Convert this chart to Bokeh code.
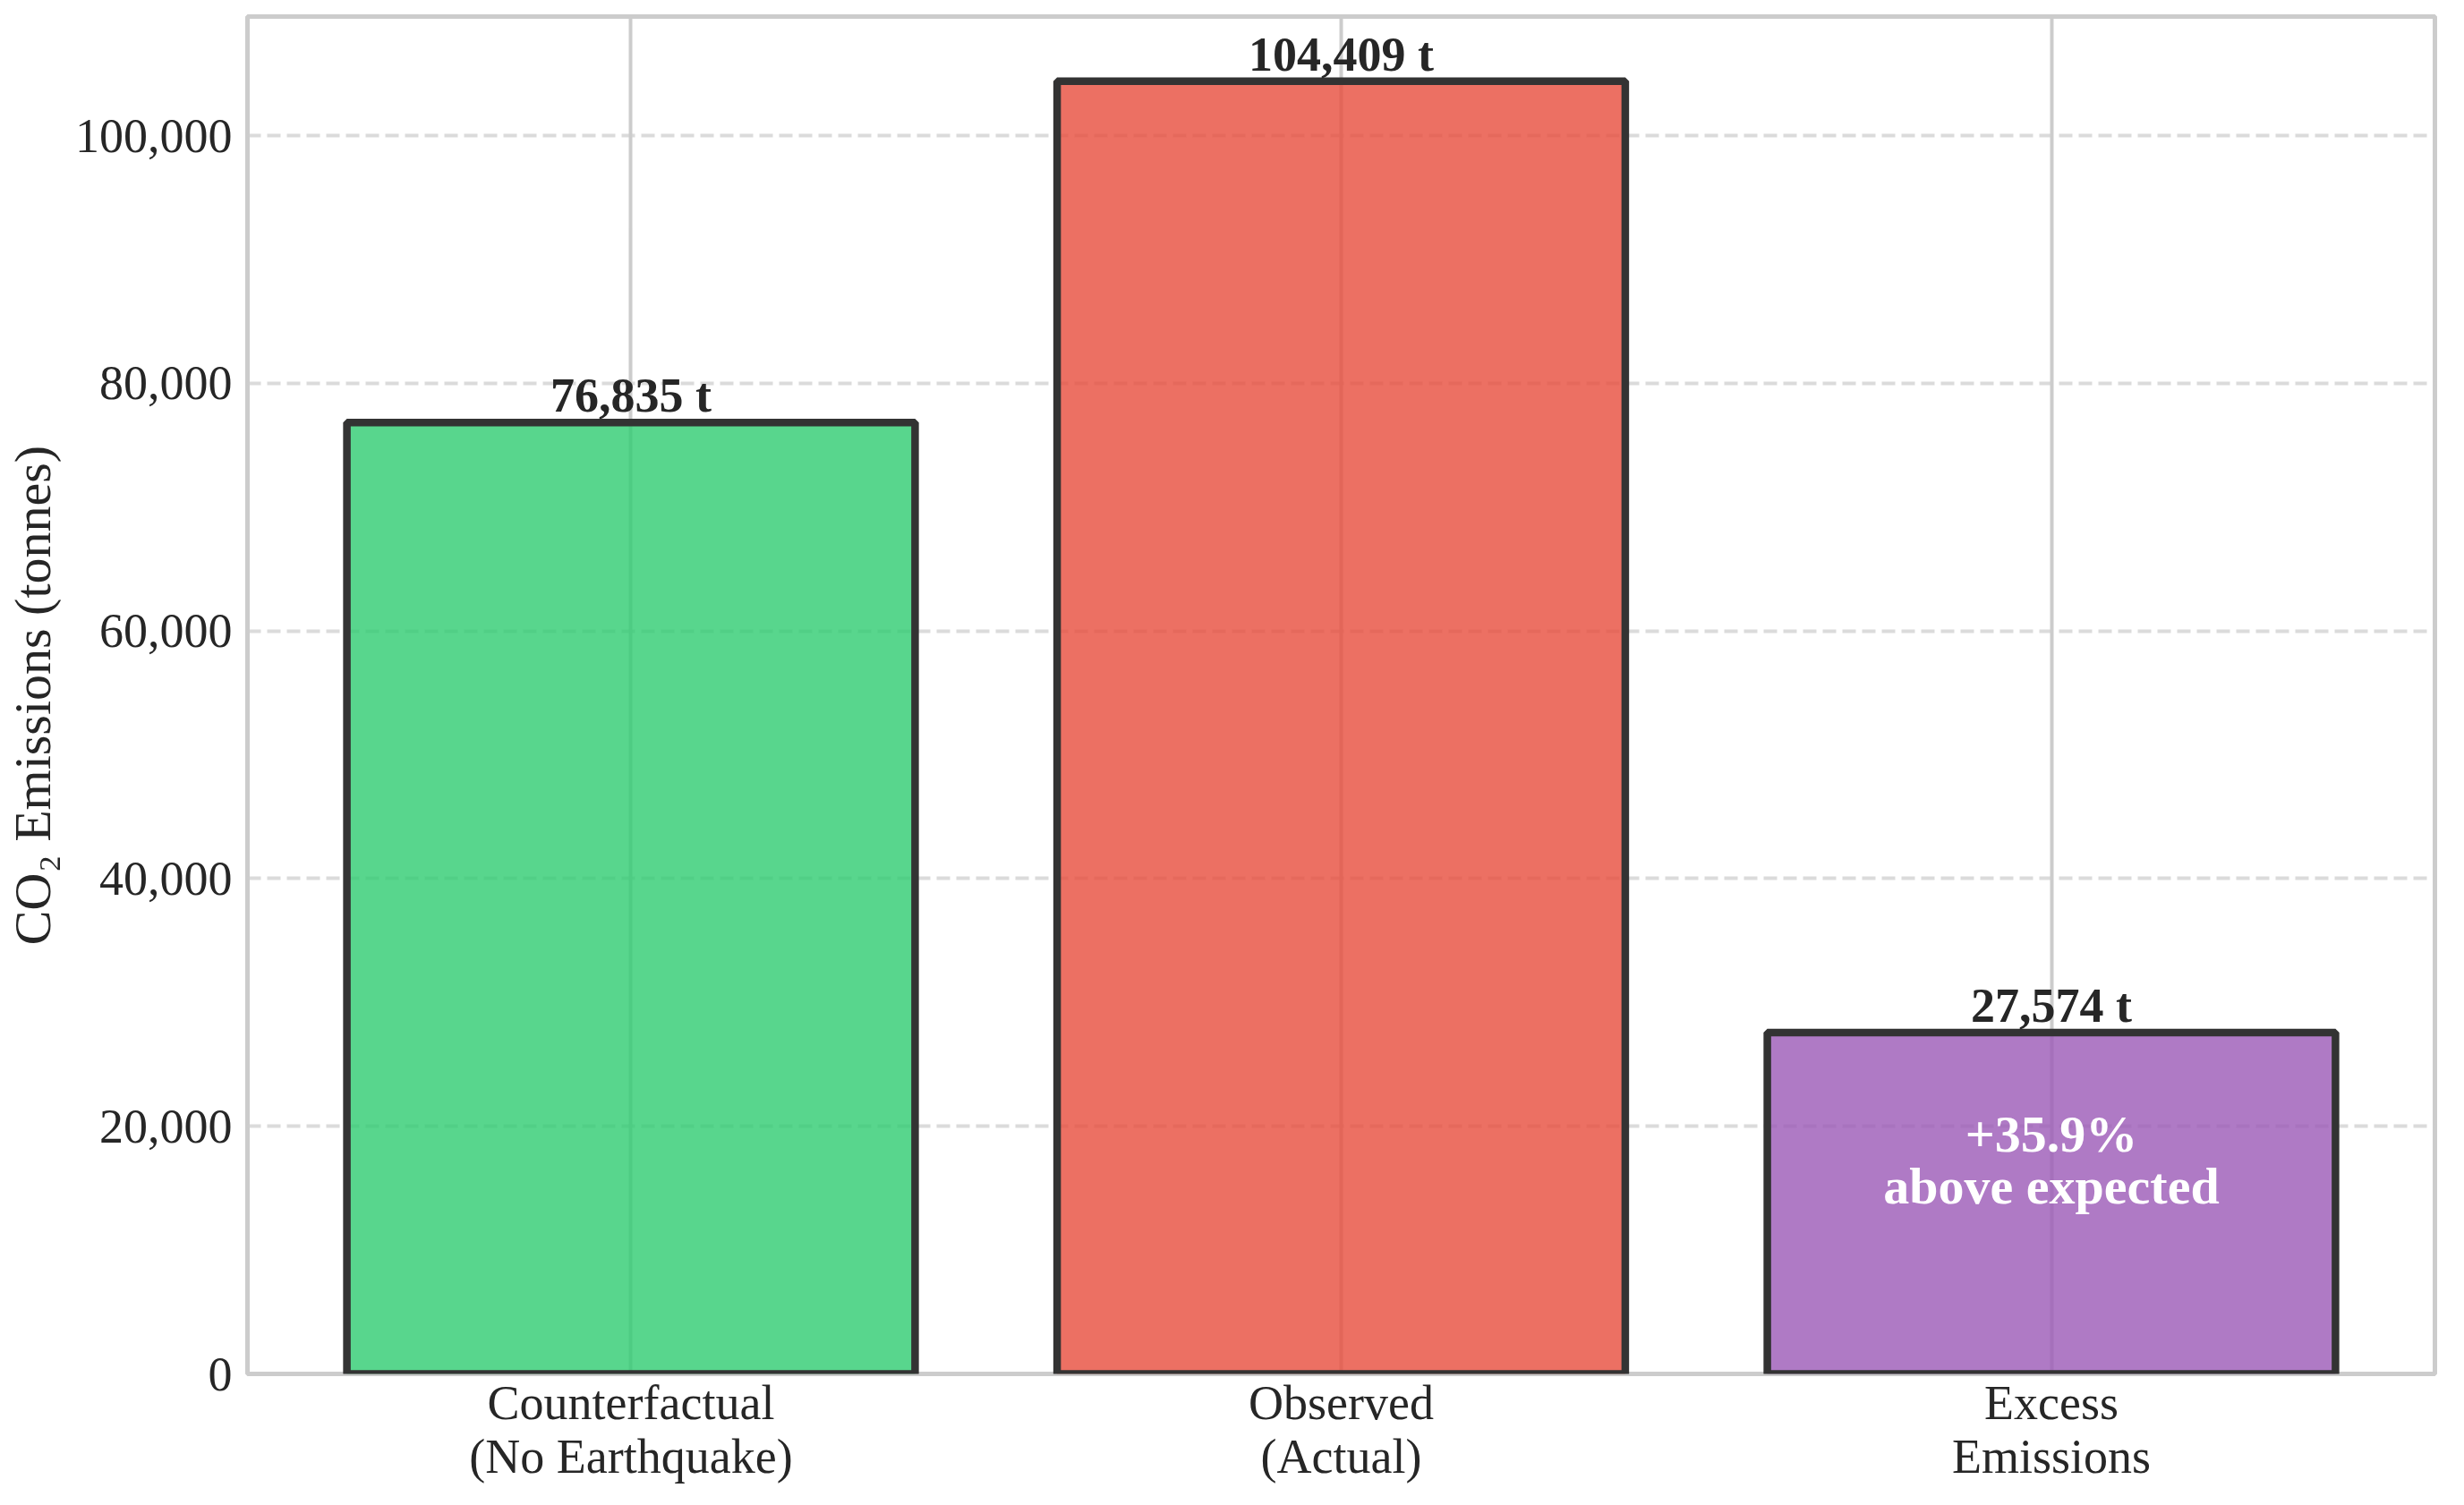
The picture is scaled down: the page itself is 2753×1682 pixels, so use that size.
from bokeh.plotting import figure
from bokeh.models import ColumnDataSource, FactorRange, Range1d, NumeralTickFormatter, FixedTicker
from bokeh.core.properties import value
from bokeh.embed import file_html
from bokeh.resources import INLINE

# ---- data ----
categories = ["Counterfactual\n(No Earthquake)", "Observed\n(Actual)", "Excess\nEmissions"]
emissions = [76835, 104409, 27574]
value_labels = [f"{v:,} t" for v in emissions]
y_ticks = [0, 20000, 40000, 60000, 80000, 100000]
y_label = "CO\u2082 Emissions (tonnes)"

# ---- styles ----
bar_colors = ["#2ecc71", "#e74c3c", "#9b59b6"]
FONT = "Liberation Serif"
TEXT_COLOR = "#262626"

excess_pct = emissions[2] / emissions[0] * 100
annotation_text = [f"+{excess_pct:.1f}%\nabove expected"]

W, H = 2724, 1660
p = figure(
    width=W, height=H,
    x_range=FactorRange(factors=categories, range_padding=0.08 / 3),
    y_range=Range1d(0, max(emissions) * 1.05),
    output_backend="svg", toolbar_location=None,
    min_border_left=276, min_border_right=4, min_border_top=18, min_border_bottom=121,
    background_fill_color="white", border_fill_color="white",
)

p.outline_line_color = "#cccccc"
p.outline_line_width = 5

# grids
p.xgrid.grid_line_color = "#cccccc"
p.xgrid.grid_line_width = 4
p.ygrid.grid_line_color = "#cccccc"
p.ygrid.grid_line_alpha = 0.7
p.ygrid.grid_line_width = 4
p.ygrid.grid_line_dash = "15 7"

# axes
for ax in (p.xaxis[0], p.yaxis[0]):
    ax.axis_line_color = None
    ax.major_tick_line_color = None
    ax.minor_tick_line_color = None
    ax.major_tick_out = 0
    ax.major_tick_in = 0
    ax.major_label_text_font = FONT
    ax.major_label_text_font_size = "54px"
    ax.major_label_text_color = TEXT_COLOR

p.yaxis.ticker = FixedTicker(ticks=y_ticks)
p.yaxis.formatter = NumeralTickFormatter(format="0,0")
p.yaxis.major_label_standoff = 17
p.yaxis.axis_label = y_label
p.yaxis.axis_label_text_font = FONT
p.yaxis.axis_label_text_font_size = "58px"
p.yaxis.axis_label_text_font_style = "normal"
p.yaxis.axis_label_text_color = TEXT_COLOR
p.yaxis.axis_label_standoff = 12

p.xaxis.major_label_standoff = 2
p.xaxis.major_label_text_line_height = 1.0

src = ColumnDataSource(dict(cat=categories, val=emissions, lab=value_labels, color=bar_colors))

p.vbar(x="cat", top="val", width=0.8, source=src, fill_color="color", fill_alpha=0.8,
       line_color="#333333", line_width=8.5)

p.text(x="cat", y="val", text="lab", source=src, text_font=value(FONT), text_font_style="bold",
       text_font_size="54px", text_color=TEXT_COLOR, text_align="center",
       text_baseline="middle", y_offset=-30)

ann_src = ColumnDataSource(dict(x=[categories[2]], y=[emissions[2] * 0.6], t=annotation_text))
p.text(x="x", y="y", text="t", source=ann_src, text_font=value(FONT), text_font_style="bold",
       text_font_size="58px", text_color="white", text_align="center", text_baseline="middle",
       text_line_height=0.9, y_offset=-10)

open("out.html", "w").write(file_html(p, INLINE))
